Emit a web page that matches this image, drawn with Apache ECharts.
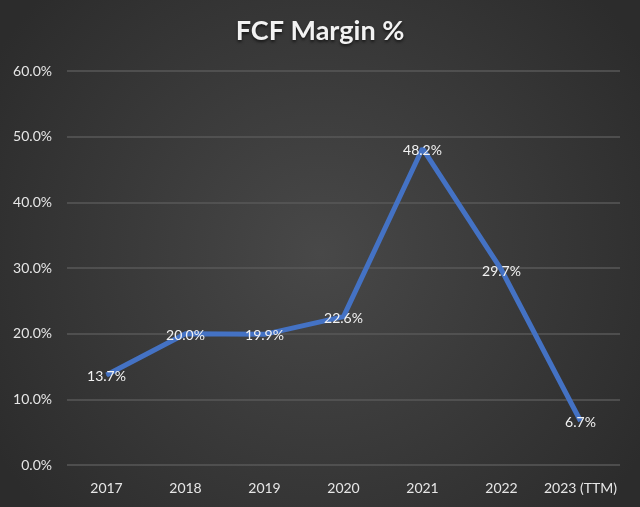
<!DOCTYPE html>
<html>
<head>
<meta charset="utf-8">
<script src="https://cdn.jsdelivr.net/npm/echarts@6/dist/echarts.min.js"></script>
<style>
  html, body { margin: 0; padding: 0; }
  #chart { width: 640px; height: 507px; }
</style>
</head>
<body>
<div id="chart"></div>
<script>
const years = ["2017", "2018", "2019", "2020", "2021", "2022", "2023 (TTM)"];
const fcfMargin = [13.7, 20.0, 19.9, 22.6, 48.2, 29.7, 6.7];

let chart = echarts.init(document.getElementById("chart"));
let font = "Lato, 'Open Sans', sans-serif";
let option = {
  backgroundColor: {
    type: "radial",
    x: 0.5,
    y: 0.5,
    r: 0.75,
    colorStops: [
      { offset: 0, color: "#484848" },
      { offset: 1, color: "#2c2c2c" }
    ]
  },
  title: {
    text: "FCF Margin %",
    left: "center",
    top: 13,
    textStyle: {
      color: "#f2f2f2",
      fontSize: 27,
      fontWeight: "bold",
      fontFamily: font,
      textShadowColor: "rgba(0,0,0,0.6)",
      textShadowBlur: 3,
      textShadowOffsetY: 2
    }
  },
  grid: { left: 67, right: 20, top: 71, bottom: 42 },
  xAxis: {
    type: "category",
    data: years,
    axisLine: { show: false },
    axisTick: { show: false },
    axisLabel: { color: "#e6e6e6", fontSize: 14, fontFamily: font, margin: 16, interval: 0 }
  },
  yAxis: {
    type: "value",
    min: 0,
    max: 60,
    interval: 10,
    axisLabel: {
      color: "#e6e6e6",
      fontSize: 14,
      fontFamily: font,
      margin: 15,
      formatter: v => v.toFixed(1) + "%"
    },
    splitLine: { lineStyle: { color: "#585858", width: 1.5 } }
  },
  series: [
    {
      type: "line",
      data: fcfMargin,
      symbol: "circle",
      symbolSize: 1,
      itemStyle: { color: "#4472c4" },
      lineStyle: { color: "#4472c4", width: 5 },
      label: {
        show: true,
        position: "top",
        distance: 0,
        offset: [0, 9],
        color: "#f2f2f2",
        fontSize: 14,
        fontFamily: font,
        formatter: p => p.value.toFixed(1) + "%"
      }
    }
  ]
};
chart.setOption(option);
</script>
</body>
</html>
